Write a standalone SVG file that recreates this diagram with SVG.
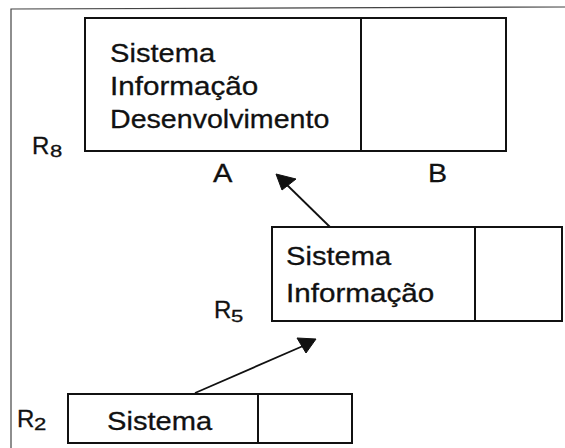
<svg xmlns="http://www.w3.org/2000/svg" width="565" height="448" viewBox="0 0 565 448">
<style>
  .frame{fill:none;stroke:#444;stroke-width:1.2}
  .box{fill:#fff;stroke:#111;stroke-width:2}
  .div{stroke:#111;stroke-width:2}
  .t{font-family:"Liberation Sans",Arial,sans-serif;font-size:26px;fill:#111;stroke:#111;stroke-width:0.3}
  .r{font-family:"Liberation Sans",Arial,sans-serif;font-size:24px;fill:#111;stroke:#111;stroke-width:0.3}
  .sub{font-family:"Liberation Sans",Arial,sans-serif;font-size:17px;fill:#111;stroke:#111;stroke-width:0.3}
  .conn{stroke:#111;stroke-width:1.8;fill:none}
  .head{fill:#111;stroke:#111;stroke-width:1;stroke-linejoin:round}
</style>
<rect width="565" height="448" fill="#fff"/>
<polyline class="frame" points="11,448 11,9 565,7"/>

<g id="R8">
  <rect class="box" x="85" y="18" width="421" height="133"/>
  <line class="div" x1="361" y1="18" x2="361" y2="151"/>
  <text class="t" transform="translate(110 62) scale(1.12 1)">Sistema</text>
  <text class="t" transform="translate(110 95) scale(1.14 1)">Informação</text>
  <text class="t" transform="translate(110 128) scale(1.1 1)">Desenvolvimento</text>
  <text class="r" x="32" y="154">R</text>
  <text class="sub" transform="translate(50 157) scale(1.3 1)">8</text>
  <text class="t" transform="translate(213 182) scale(1.12 1)">A</text>
  <text class="t" transform="translate(428 182) scale(1.1 1)">B</text>
</g>

<g id="R5">
  <rect class="box" x="272" y="227" width="290" height="94"/>
  <line class="div" x1="475" y1="227" x2="475" y2="321"/>
  <text class="t" transform="translate(286 265) scale(1.12 1)">Sistema</text>
  <text class="t" transform="translate(286 302) scale(1.14 1)">Informação</text>
  <text class="r" x="214" y="318">R</text>
  <text class="sub" transform="translate(231 322) scale(1.3 1)">5</text>
</g>

<g id="R2">
  <rect class="box" x="68" y="394" width="284" height="49"/>
  <line class="div" x1="258" y1="394" x2="258" y2="443"/>
  <text class="t" transform="translate(107 430) scale(1.12 1)">Sistema</text>
  <text class="r" x="17" y="427">R</text>
  <text class="sub" transform="translate(34 430) scale(1.3 1)">2</text>
</g>

<g id="connectors">
  <line class="conn" x1="330" y1="227" x2="284" y2="182"/>
  <polygon class="head" points="276,174 296,179 282,190"/>
  <line class="conn" x1="195" y1="393" x2="303" y2="346"/>
  <polygon class="head" points="297,338 316,339 306,353"/>
</g>
</svg>
